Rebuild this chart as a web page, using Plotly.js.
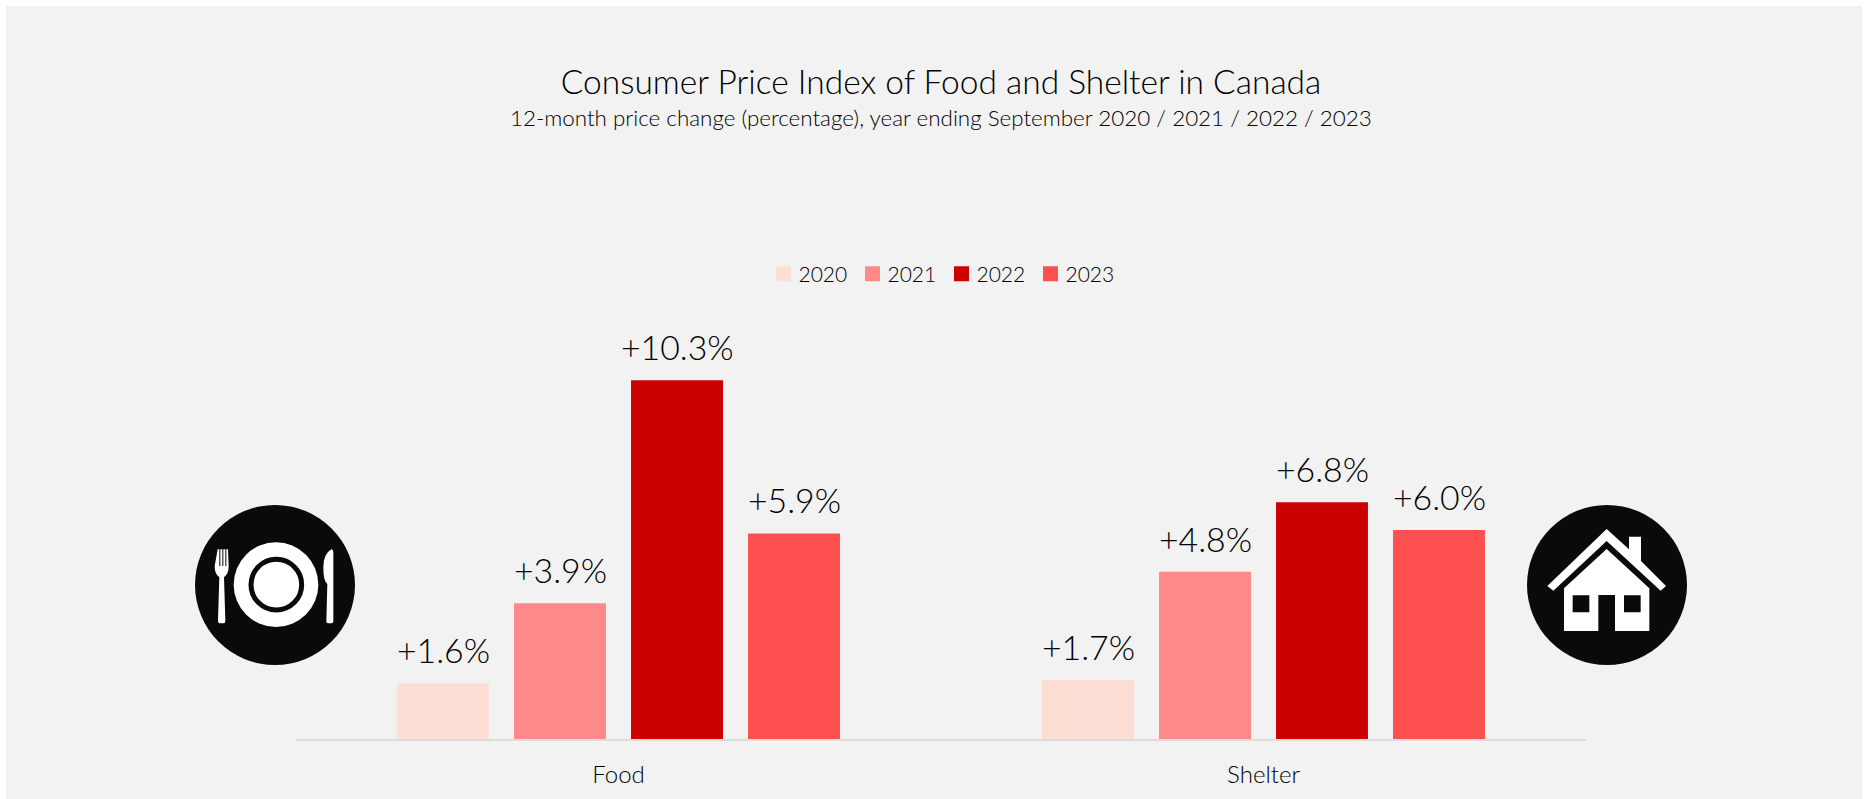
<!DOCTYPE html>
<html><head><meta charset="utf-8">
<script src="https://cdn.plot.ly/plotly-3.0.1.min.js"></script>
<style>html,body{margin:0;padding:0;background:#fff;overflow:hidden}
#chart{position:absolute;left:6px;top:6px;width:1856px;height:793px}</style>
</head><body><div id="chart"></div>
<script>
const categories = ["Food", "Shelter"];
const years = ["2020", "2021", "2022", "2023"];
const values2020 = [1.6, 1.7];
const values2021 = [3.9, 4.8];
const values2022 = [10.3, 6.8];
const values2023 = [5.9, 6.0];
const seriesValues = [values2020, values2021, values2022, values2023];
const colors = ["#fcded5", "#ff8888", "#cc0000", "#ff5050"];
const titleText = "Consumer Price Index of Food and Shelter in Canada";
const subtitleText = "12-month price change (percentage), year ending September 2020 / 2021 / 2022 / 2023";
const FONT = "Lato, 'Open Sans', sans-serif";
const INK = "#000";

const foodSvg = `<svg xmlns="http://www.w3.org/2000/svg" viewBox="75 75 480 480" width="480" height="480">
<circle cx="315" cy="315" r="240" fill="#0a0a0a"/>
<circle cx="318" cy="314" r="127" fill="#fff"/>
<circle cx="319" cy="314" r="76" fill="#fff" stroke="#0a0a0a" stroke-width="15"/>
<path fill="#fff" d="M143 208h5v50h3v-50h6v50h3v-50h6v50h3v-50h5l2 50q0 24-14 34l4 130q0 8-6 8h-10q-6 0-6-8l4-130q-14-10-14-34z"/>
<path fill="#fff" d="M484 208q6 0 6 8v208q0 6-6 6h-10q-5 0-5-6l3-112q-12-8-12-50q0-40 24-54z"/>
</svg>`;
const houseSvg = `<svg xmlns="http://www.w3.org/2000/svg" viewBox="81 75 480 480" width="480" height="480">
<circle cx="321" cy="315" r="240" fill="#0a0a0a"/>
<path fill="#fff" d="M320 147L387 208V170H423V243L498 318L482 332L320 183L160 332L142 318Z"/>
<path fill="#fff" fill-rule="evenodd" d="M320 207L448 325V453H345V345H295V453H192V325ZM218 346V397H268V346ZM372 346V397H422V346Z"/>
</svg>`;
const uri = s => "data:image/svg+xml;base64," + btoa(s);

const plotL = 296, plotR = 1586, plotT = 321, plotB = 739;
const px = x => (x - plotL) / (plotR - plotL);
const py = y => (plotB - y) / (plotB - plotT);
const icon = (src, x0, y0) => ({source: uri(src), xref:"paper", yref:"paper",
  x: px(x0), y: py(y0), sizex: 160/(plotR-plotL), sizey: 160/(plotB-plotT),
  xanchor:"left", yanchor:"top", sizing:"stretch", layer:"above"});

const traces = years.map((y, i) => ({
  type: "bar", name: y, x: categories, y: seriesValues[i],
  marker: {color: colors[i]},
  hoverinfo: "x+y+name"
}));

const valueLabels = [];
years.forEach((y, i) => categories.forEach((c, j) => valueLabels.push({
  text: "+" + seriesValues[i][j].toFixed(1) + "%",
  xref: "x", yref: "y", x: c, y: seriesValues[i][j],
  xshift: (i - 1.5) * 117, yshift: 11, xanchor: "center", yanchor: "bottom",
  showarrow: false, font: {family: FONT, size: 33.8, color: INK, weight: 300}
})));

const layout = {
  width: 1856, height: 793,
  paper_bgcolor: "#f2f2f2", plot_bgcolor: "#f2f2f2",
  font: {family: FONT, color: INK, weight: 300},
  margin: {l: plotL-6, r: 1862-plotR, t: plotT-6, b: 799-plotB, pad: 0},
  barmode: "group", bargap: 0.2744, bargroupgap: 0.214,
  title: {text: titleText, xref:"paper", x:0.5, xanchor:"center", yref:"container", y:0.8895, yanchor:"bottom",
    font:{family:FONT,size:33.5,color:"#000",weight:300}},
  annotations: valueLabels.concat([{text: subtitleText, xref:"paper", yref:"paper", x:0.5, y:py(117.5), xanchor:"center", yanchor:"middle",
    showarrow:false, font:{family:FONT,size:22.4,color:INK,weight:300}}]),
  xaxis: {type:"category", showgrid:false, zeroline:false, showline:true, linecolor:"#dcdcdc", linewidth:1.5,
    ticks:"", ticklabelstandoff:13, tickfont:{family:FONT,size:24,color:INK,weight:300}, fixedrange:true},
  yaxis: {range:[0,12], visible:false, showgrid:false, zeroline:false, fixedrange:true},
  showlegend: true,
  legend: {orientation:"h", xref:"paper", x:0.5-4.5/1290, xanchor:"center", yref:"container", y:0.662, yanchor:"middle",
    font:{family:FONT,size:21,color:INK,weight:300}, traceorder:"normal", itemwidth:30, entrywidth:44, entrywidthmode:"pixels", bgcolor:"rgba(0,0,0,0)"},
  images: [icon(foodSvg,195,505), icon(houseSvg,1527,505)]
};
Plotly.newPlot("chart", traces, layout, {displayModeBar:false, responsive:false}).then(gd => {
  gd.querySelectorAll(".legendpoints path").forEach(p => {
    p.setAttribute("d", "M-2.5,-7.5h15v15h-15z");
    p.style.strokeWidth = "0";
  });
});
</script></body></html>
